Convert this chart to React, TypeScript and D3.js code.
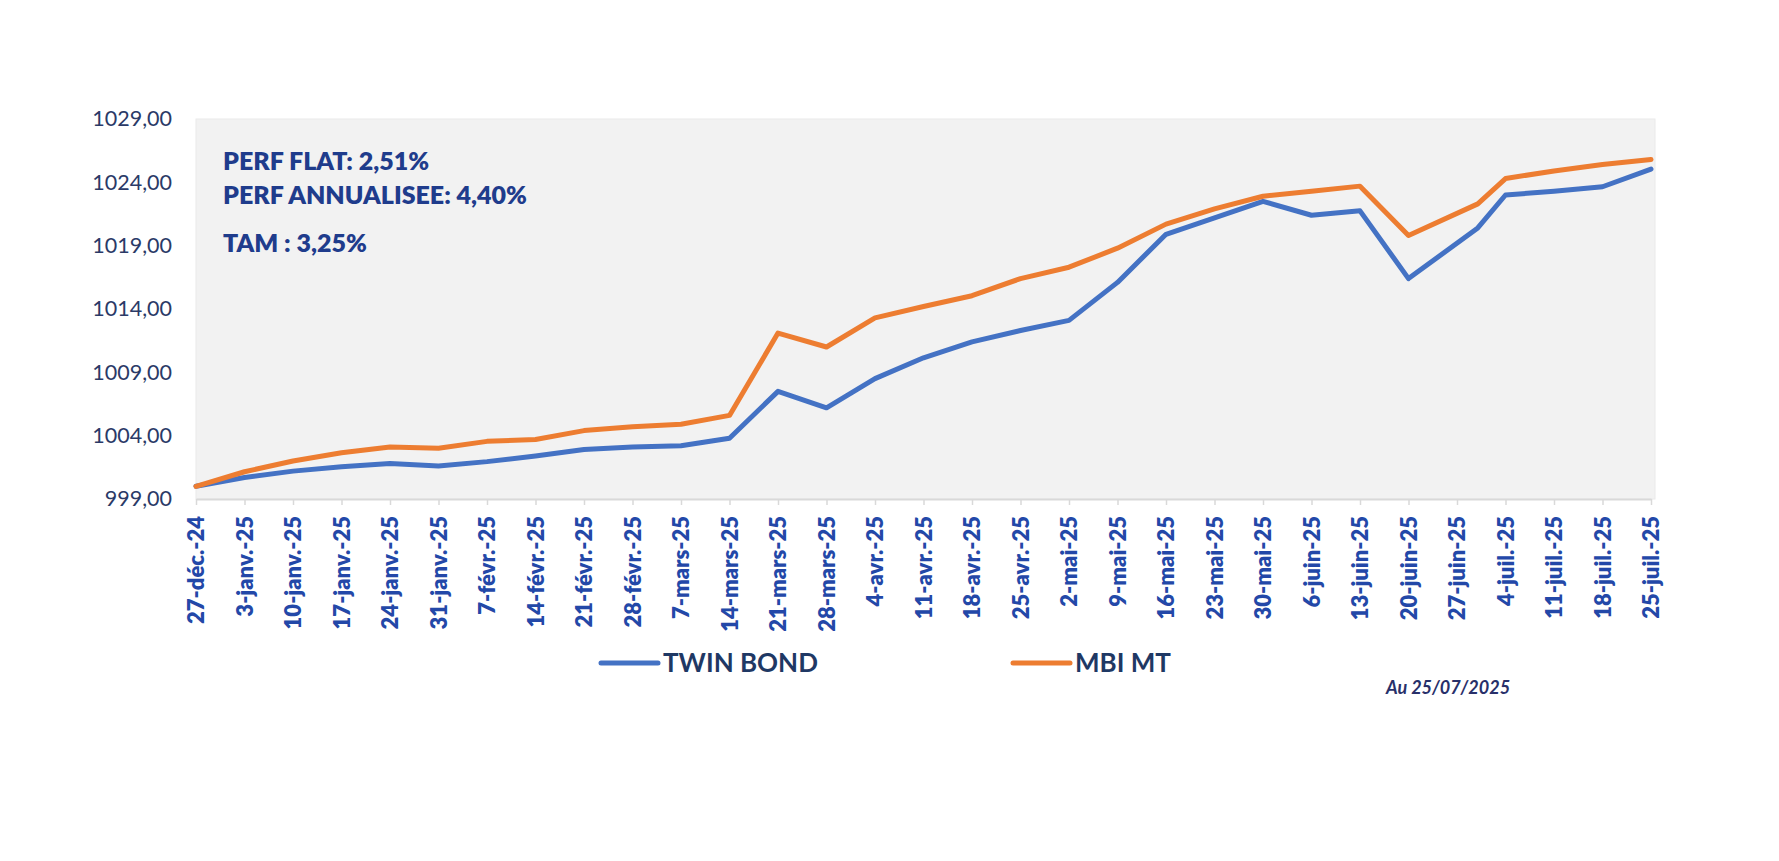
import * as d3 from 'd3';
import React, { useEffect, useRef } from 'react';

// Valuation dates (weekly, one half-year-end point)
const DATES = [
  "2024-12-27", "2025-01-03", "2025-01-10", "2025-01-17", "2025-01-24", "2025-01-31",
  "2025-02-07", "2025-02-14", "2025-02-21", "2025-02-28", "2025-03-07", "2025-03-14",
  "2025-03-21", "2025-03-28", "2025-04-04", "2025-04-11", "2025-04-18", "2025-04-25",
  "2025-05-02", "2025-05-09", "2025-05-16", "2025-05-23", "2025-05-30", "2025-06-06",
  "2025-06-13", "2025-06-20", "2025-06-30", "2025-07-04", "2025-07-11", "2025-07-18",
  "2025-07-25"
];

const TWIN_BOND = [
  1000.0, 1000.7, 1001.2, 1001.55, 1001.8, 1001.6,
  1001.95, 1002.4, 1002.9, 1003.1, 1003.2, 1003.8,
  1007.5, 1006.2, 1008.5, 1010.15, 1011.4, 1012.3,
  1013.1, 1016.1, 1019.9, 1021.2, 1022.5, 1021.4,
  1021.75, 1016.4, 1020.4, 1023.0, 1023.3, 1023.65,
  1025.05
];

const MBI_MT = [
  1000.0, 1001.15, 1002.0, 1002.65, 1003.1, 1003.0,
  1003.55, 1003.7, 1004.4, 1004.7, 1004.9, 1005.6,
  1012.1, 1011.0, 1013.3, 1014.2, 1015.05, 1016.4,
  1017.3, 1018.8, 1020.7, 1021.9, 1022.9, 1023.3,
  1023.7, 1019.8, 1022.3, 1024.3, 1024.9, 1025.4,
  1025.8
];

const Y_TICKS = [999, 1004, 1009, 1014, 1019, 1024, 1029];

const ANNOTATIONS = ["PERF FLAT: 2,51%", "PERF ANNUALISEE: 4,40%", "TAM : 3,25%"];

const SERIES = [
  { name: "TWIN BOND", values: TWIN_BOND, color: "#4472C4" },
  { name: "MBI MT", values: MBI_MT, color: "#ED7D31" }
];

const AS_OF = "Au 25/07/2025";

const FONT = 'Lato, "Liberation Sans", sans-serif';

const frLocale = d3.timeFormatLocale({
  dateTime: "%A %e %B %Y à %X",
  date: "%d/%m/%Y",
  time: "%H:%M:%S",
  periods: ["AM", "PM"],
  days: ["dimanche", "lundi", "mardi", "mercredi", "jeudi", "vendredi", "samedi"],
  shortDays: ["dim.", "lun.", "mar.", "mer.", "jeu.", "ven.", "sam."],
  months: ["janvier", "février", "mars", "avril", "mai", "juin", "juillet", "août", "septembre", "octobre", "novembre", "décembre"],
  shortMonths: ["janv.", "févr.", "mars", "avr.", "mai", "juin", "juil.", "août", "sept.", "oct.", "nov.", "déc."]
});

const App: React.FC = () => {
  const svgRef = useRef<SVGSVGElement>(null);

  useEffect(() => {
    if (!svgRef.current) { return; }
    const svg = d3.select(svgRef.current);
    svg.selectAll("*").remove();

    const width = 1779;
    const height = 861;
    const margin = { top: 119, right: 128, bottom: 362, left: 196 };
    const chartWidth = 1651 - margin.left;
    const chartHeight = height - margin.top - margin.bottom;

    const parseDate = d3.utcParse("%Y-%m-%d");
    const dates = DATES.map(d => parseDate(d)!);

    const xScale = d3.scaleUtc()
      .domain([dates[0], dates[dates.length - 1]])
      .range([0, chartWidth]);

    const yScale = d3.scaleLinear()
      .domain([999, 1029])
      .range([chartHeight, 0]);

    svg.attr("width", width).attr("height", height);

    const chart = svg.append("g")
      .attr("transform", `translate(${margin.left},${margin.top})`);

    // Plot background
    chart.append("rect")
      .attr("x", 0)
      .attr("y", 0)
      .attr("width", chartWidth + 4)
      .attr("height", chartHeight)
      .attr("fill", "#F2F2F2")
      .attr("stroke", "#EAEAEA")
      .attr("stroke-width", 1);

    // Annotations
    const annoY = [51, 85, 133];
    chart.selectAll(".anno")
      .data(ANNOTATIONS)
      .enter().append("text")
      .attr("x", 27)
      .attr("y", (_, i) => annoY[i])
      .attr("fill", "#1F3C8C")
      .style("font-family", FONT)
      .style("font-weight", "800")
      .style("font-size", "25px")
      .text(t => t);

    // Y axis labels
    const yAxis = chart.append("g")
      .call(d3.axisLeft(yScale)
        .tickValues(Y_TICKS)
        .tickSize(0)
        .tickPadding(24)
        .tickFormat(v => d3.format(".2f")(v as number).replace(".", ","))
      );
    yAxis.select(".domain").remove();
    yAxis.selectAll("text")
      .attr("fill", "#2B3A67")
      .style("font-family", FONT)
      .style("font-size", "21.5px");

    // X axis
    const tickDates = d3.utcDay.range(dates[0], d3.utcDay.offset(dates[dates.length - 1], 1), 7);
    const fmt = frLocale.utcFormat("%-d-%b-%y");
    const xAxis = chart.append("g")
      .attr("transform", `translate(0,${chartHeight})`)
      .call(d3.axisBottom(xScale)
        .tickValues(tickDates)
        .tickSize(6)
        .tickSizeOuter(0)
        .tickFormat(d => fmt(d as Date))
      );
    xAxis.select(".domain")
      .attr("stroke", "#D9D9D9")
      .attr("stroke-width", 2);
    xAxis.selectAll(".tick line")
      .attr("stroke", "#D9D9D9")
      .attr("stroke-width", 1.5);
    xAxis.selectAll("text")
      .attr("transform", "rotate(-90)")
      .attr("x", -17)
      .attr("y", 0)
      .attr("dy", "0.35em")
      .attr("text-anchor", "end")
      .attr("fill", "#2348A8")
      .style("font-family", FONT)
      .style("font-weight", "800")
      .style("font-size", "22px");

    // Lines
    const line = d3.line<number>()
      .x((_, i) => xScale(dates[i]))
      .y(v => yScale(v));

    SERIES.forEach(s => {
      chart.append("path")
        .datum(s.values)
        .attr("fill", "none")
        .attr("stroke", s.color)
        .attr("stroke-width", 5)
        .attr("stroke-linejoin", "round")
        .attr("stroke-linecap", "round")
        .attr("d", line);
    });

    // Legend
    const legendX = [601, 1013];
    const legend = svg.append("g");
    SERIES.forEach((s, i) => {
      legend.append("line")
        .attr("x1", legendX[i])
        .attr("x2", legendX[i] + 57)
        .attr("y1", 663)
        .attr("y2", 663)
        .attr("stroke", s.color)
        .attr("stroke-width", 5)
        .attr("stroke-linecap", "round");
      legend.append("text")
        .attr("x", legendX[i] + 62)
        .attr("y", 672)
        .attr("fill", "#1F3864")
        .style("font-family", FONT)
        .style("font-weight", "700")
        .style("font-size", "26px")
        .text(s.name);
    });

    svg.append("text")
      .attr("x", 1386)
      .attr("y", 694)
      .attr("fill", "#28306A")
      .style("font-family", FONT)
      .style("font-weight", "700")
      .style("font-style", "italic")
      .style("font-size", "18px")
      .text(AS_OF);
  }, []);

  return (
    <svg
      ref={svgRef}
      style={{ position: "absolute", left: 0, top: 0, display: "block", background: "#FFFFFF" }}
    />
  );
};

export default App;
